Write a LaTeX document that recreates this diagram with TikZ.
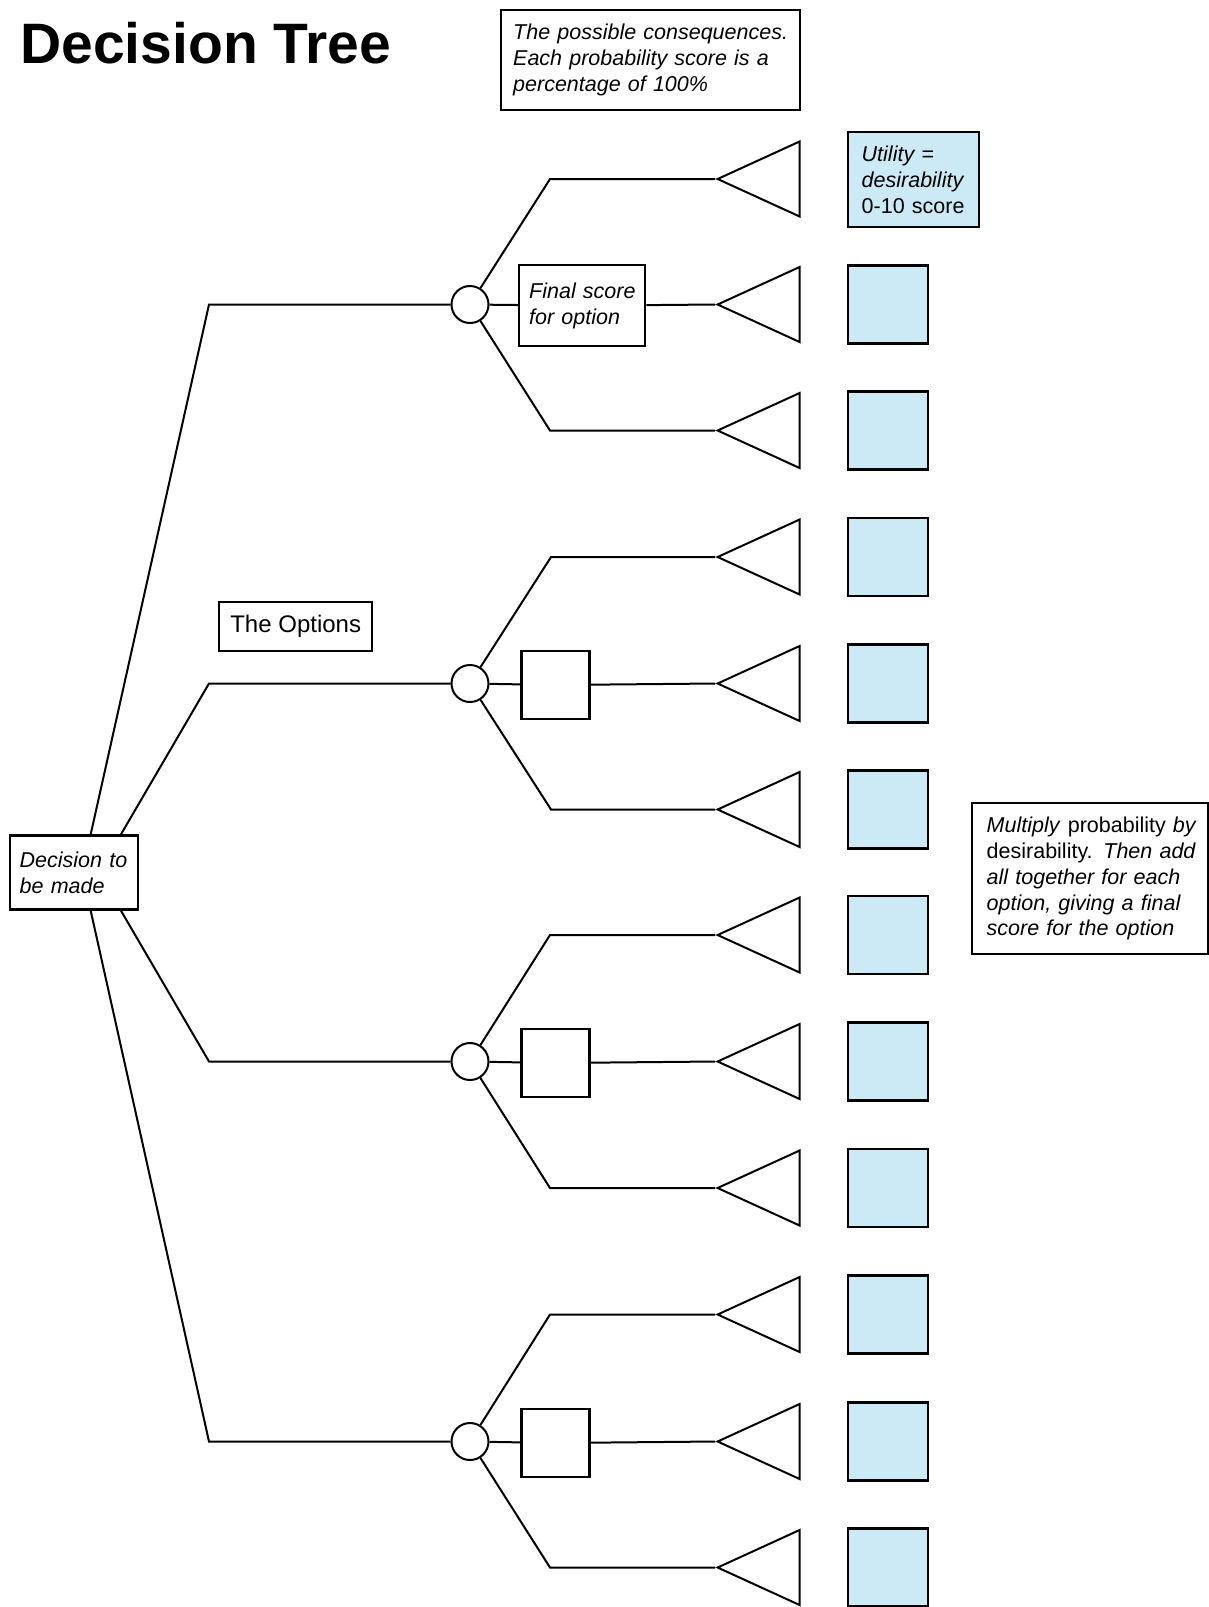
\documentclass[tikz,border=0pt]{standalone}
\usepackage{fontspec}
\setmainfont{Liberation Sans}
\usetikzlibrary{shapes.geometric}
\definecolor{utilblue}{RGB}{204,234,246}

\begin{document}
\begin{tikzpicture}[x=1pt, y=-1pt, line width=2pt,
    note/.style={draw, line width=2.4pt, anchor=north west, align=left, inner ysep=0pt,
        font=\fontsize{21.5}{25.8}\selectfont},
    it note/.style={note, font=\fontsize{21.5}{25.8}\selectfont\itshape},
    chance/.style={draw, circle, minimum size=37pt, inner sep=0pt},
    outcome/.style={draw, isosceles triangle, isosceles triangle stretches,
        shape border rotate=180, minimum width=75pt, minimum height=82pt,
        inner sep=0pt, anchor=apex},
    util/.style={draw, fill=utilblue, line width=2.4pt, minimum width=80pt,
        minimum height=78pt, inner sep=0pt},
    score/.style={draw, line width=2.4pt, minimum size=68pt, inner sep=0pt}]
    \useasboundingbox (0,0) rectangle (1208,1607);
    \node[anchor=base west, font=\fontsize{57}{70}\selectfont\bfseries] (title) at (16,63.3) {Decision Tree};
    \node[it note, minimum width=299pt, minimum height=100pt, inner xsep=12pt, text width=275pt] (conseq) at (500,9)
        {The possible consequences.\\ Each probability score is a\\ percentage of 100\%};
    \node[note, fill=utilblue, minimum width=130.5pt, minimum height=95pt, inner xsep=13.5pt, text width=103.5pt] (u1) at (847,131)
        {\textit{Utility~=}\\ \textit{desirability}\\ 0-10~score};
    \node[note, minimum width=236pt, minimum height=151pt, inner xsep=14.5pt, text width=207pt] (multiply) at (971,802)
        {\mbox{\textit{Multiply} probability \textit{by}}\\ \mbox{desirability. \textit{Then add}}\\ \textit{all together for each}\\
         \textit{option, giving a final}\\ \textit{score for the option}};
    \node[it note, minimum width=127.5pt, minimum height=74pt, inner xsep=9.5pt, text width=108.5pt] (dec) at (9,834.3)
        {Decision~to\\ be made};
    \node[note, minimum width=153pt, minimum height=49pt, align=center, font=\fontsize{24}{28}\selectfont] (options) at (218,601)
        {The Options};
    \node[it note, minimum width=126pt, minimum height=81pt, inner xsep=10pt, text width=106pt] (final) at (518,264)
        {Final~score\\ for~option};

    \node[chance] (c1) at (470,304.5) {};
    \node[chance] (c2) at (470,683.5) {};
    \node[chance] (c3) at (470,1061.5) {};
    \node[chance] (c4) at (470,1441.5) {};

    \node[score] (s2) at (555.5,685) {};
    \node[score] (s3) at (555.5,1063) {};
    \node[score] (s4) at (555.5,1443) {};

    \node[outcome] (t1) at (715,179) {};
    \node[outcome] (t2) at (715,304.5) {};
    \node[outcome] (t3) at (715,430.5) {};
    \node[outcome] (t4) at (715,557) {};
    \node[outcome] (t5) at (715,683.5) {};
    \node[outcome] (t6) at (715,809.5) {};
    \node[outcome] (t7) at (715,935) {};
    \node[outcome] (t8) at (715,1061.5) {};
    \node[outcome] (t9) at (715,1188) {};
    \node[outcome] (t10) at (715,1314.5) {};
    \node[outcome] (t11) at (715,1441.5) {};
    \node[outcome] (t12) at (715,1567.5) {};

    \node[util] (u2) at (888,304.5) {};
    \node[util] (u3) at (888,430.5) {};
    \node[util] (u4) at (888,557) {};
    \node[util] (u5) at (888,683.5) {};
    \node[util] (u6) at (888,809.5) {};
    \node[util] (u7) at (888,935) {};
    \node[util] (u8) at (888,1061.5) {};
    \node[util] (u9) at (888,1188) {};
    \node[util] (u10) at (888,1314.5) {};
    \node[util] (u11) at (888,1441.5) {};
    \node[util] (u12) at (888,1567.5) {};

    \coordinate (o1) at (209,304.5);
    \coordinate (o2) at (209,683.5);
    \coordinate (o3) at (209,1061.5);
    \coordinate (o4) at (209,1441.5);
    \coordinate (k1) at (550,179);
    \coordinate (k3) at (550,430.5);
    \coordinate (k4) at (551,557);
    \coordinate (k6) at (551,809.5);
    \coordinate (k7) at (550,935);
    \coordinate (k9) at (550,1188);
    \coordinate (k10) at (550,1314.5);
    \coordinate (k12) at (550,1567.5);

    \draw ([xshift=81.7pt]dec.north west) -- (o1) -- (c1);
    \draw ([xshift=112pt]dec.north west) -- (o2) -- (c2);
    \draw ([xshift=112pt]dec.south west) -- (o3) -- (c3);
    \draw ([xshift=81.7pt]dec.south west) -- (o4) -- (c4);

    \draw (c1) -- (k1) -- (t1.apex);
    \draw (c1) -- (final) -- (t2.apex);
    \draw (c1) -- (k3) -- (t3.apex);
    \draw (c2) -- (k4) -- (t4.apex);
    \draw (c2) -- (s2) -- (t5.apex);
    \draw (c2) -- (k6) -- (t6.apex);
    \draw (c3) -- (k7) -- (t7.apex);
    \draw (c3) -- (s3) -- (t8.apex);
    \draw (c3) -- (k9) -- (t9.apex);
    \draw (c4) -- (k10) -- (t10.apex);
    \draw (c4) -- (s4) -- (t11.apex);
    \draw (c4) -- (k12) -- (t12.apex);
\end{tikzpicture}
\end{document}
